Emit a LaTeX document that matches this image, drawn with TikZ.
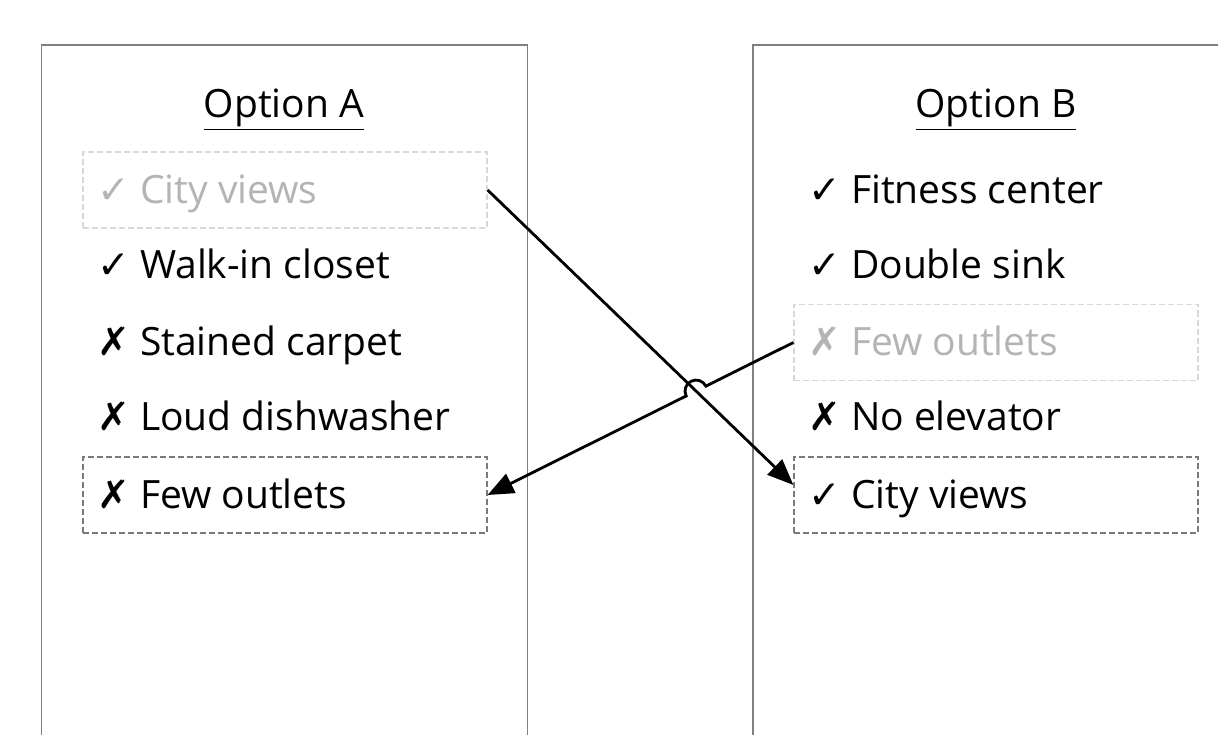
\documentclass[tikz,border=0pt]{standalone}
\usepackage{fontspec}
\setmainfont{Open Sans}
\newfontfamily\symfont{DejaVu Sans}
\usetikzlibrary{arrows.meta,calc,intersections}
\definecolor{panelgray}{HTML}{808080}
\definecolor{fadegray}{HTML}{B4B4B4}
\definecolor{fadeline}{HTML}{D8D8D8}
\definecolor{dashgray}{HTML}{7A7A7A}
\newcommand{\ck}{{\symfont ✓}}
\newcommand{\xx}{{\symfont ✗}}
\begin{document}
\begin{tikzpicture}[x=1pt,y=1pt,
  panel/.style={draw=panelgray,line width=1.6pt},
  item/.style={anchor=base west,inner sep=0pt,font=\fontsize{39}{46}\selectfont},
  title/.style={anchor=base,inner sep=0pt,font=\fontsize{39}{46}\selectfont},
  fadebox/.style={draw=fadeline,dashed,dash pattern=on 6pt off 3pt,line width=1.2pt,minimum width=404pt,minimum height=76pt,inner sep=0pt},
  markbox/.style={draw=dashgray,dashed,dash pattern=on 6pt off 3pt,line width=1.2pt,minimum width=404pt,minimum height=76pt,inner sep=0pt},
  arr/.style={line width=2.8pt,-{Triangle[length=26pt,width=21pt]}}]
\useasboundingbox[fill=white] (0,0) rectangle (1218,-735);
% panels
\draw[panel] (41.5,-735) -- (41.5,-45) -- (527.5,-45) -- (527.5,-735);
\draw[panel] (753,-735) -- (753,-45) -- (1218,-45);
% titles
\node[title] (ta) at (284,-118) {\underline{Option A}};
\node[title] (tb) at (996,-118) {\underline{Option B}};
% boxes
\node[fadebox] (cvA) at (285,-190) {};
\node[markbox] (foA) at (285,-495) {};
\node[fadebox] (foB) at (996,-342.5) {};
\node[markbox] (cvB) at (996,-495) {};
% left items
\node[item,text=fadegray] (a1) at (97,-204) {\ck\ City views};
\node[item] (a2) at (97,-279) {\ck\ Walk-in closet};
\node[item] (a3) at (97,-355) {\xx\ Stained carpet};
\node[item] (a4) at (97,-430) {\xx\ Loud dishwasher};
\node[item] (a5) at (97,-508) {\xx\ Few outlets};
% right items
\node[item] (b1) at (808,-204) {\ck\ Fitness center};
\node[item] (b2) at (808,-279) {\ck\ Double sink};
\node[item,text=fadegray] (b3) at (808,-355) {\xx\ Few outlets};
\node[item] (b4) at (808,-430) {\xx\ No elevator};
\node[item] (b5) at (808,-508) {\ck\ City views};
% connectors
\draw[arr,name path=one] (cvA.east) -- ([yshift=10pt]cvB.west);
\path[name path=two] (foB.west) -- (foA.east);
\path[name intersections={of=one and two,by=X}];
\draw[arr] let \p1=($(foB.west)-(X)$), \n1={atan2(\y1,\x1)} in
  (foB.west) -- ($(X)!11pt!(foB.west)$) arc[start angle=\n1,delta angle=180,radius=11pt] -- (foA.east);
\end{tikzpicture}
\end{document}
